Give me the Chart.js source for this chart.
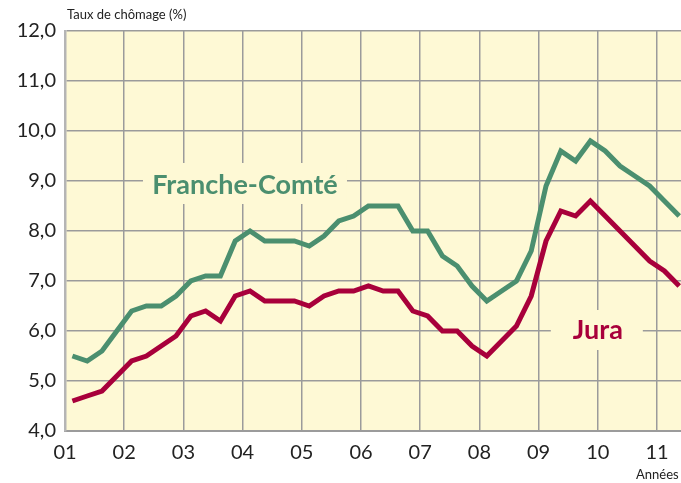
<!DOCTYPE html>
<html><head><meta charset="utf-8">
<script src="https://cdn.jsdelivr.net/npm/chart.js@4/dist/chart.umd.min.js"></script>
<style>html,body{margin:0;padding:0;background:#fff;}#wrap{width:681px;height:483px;position:relative;}</style>
</head><body><div id="wrap"><canvas id="c" width="681" height="483"></canvas></div>
<script>
const yearLabels = ['01','02','03','04','05','06','07','08','09','10','11'];
const yTicks = [4,5,6,7,8,9,10,11,12];
const franche = [5.5,5.4,5.6,6.0, 6.4,6.5,6.5,6.7, 7.0,7.1,7.1,7.8, 8.0,7.8,7.8,7.8, 7.7,7.9,8.2,8.3, 8.5,8.5,8.5,8.0, 8.0,7.5,7.3,6.9, 6.6,6.8,7.0,7.6, 8.9,9.6,9.4,9.8, 9.6,9.3,9.1,8.9, 8.6,8.3];
const jura = [4.6,4.7,4.8,5.1, 5.4,5.5,5.7,5.9, 6.3,6.4,6.2,6.7, 6.8,6.6,6.6,6.6, 6.5,6.7,6.8,6.8, 6.9,6.8,6.8,6.4, 6.3,6.0,6.0,5.7, 5.5,5.8,6.1,6.7, 7.8,8.4,8.3,8.6, 8.3,8.0,7.7,7.4, 7.2,6.9];
const seriesNames = ['Franche-Comté','Jura'];
const yTitle = 'Taux de chômage (%)';
const xTitle = 'Années';

// quarter i -> position on year axis (year index 1 = 2001), centered in quarter
const toPoints = arr => arr.map((v,i)=>({x: 1 + Math.floor(i/4) + ((i%4)+0.5)/4, y: v}));

const BG = '#fef9d5';
const GRID = '#9b9b9b';
const GREEN = '#4b8f6f';
const RED = '#a8003b';
const FONT = 'Lato, "DejaVu Sans", sans-serif';

const decor = {
  id:'decor',
  beforeDraw(chart){
    const {ctx, chartArea:a} = chart;
    ctx.save();
    ctx.fillStyle = BG;
    ctx.fillRect(a.left, a.top, a.right-a.left, a.bottom-a.top);
    ctx.restore();
  },
  beforeDatasetsDraw(chart){
    const {ctx, scales:{x,y}} = chart;
    const labels = [
      {text: seriesNames[0], xv: 4.04, yv: 8.92, color: GREEN, size: 27, box:[-102,-22,102,19]},
      {text: seriesNames[1], xv: 10.0, yv: 6.02, color: RED, size: 27, box:[-47,-20,45,20]}
    ];
    ctx.save();
    labels.forEach(l=>{
      const px = x.getPixelForValue(l.xv), py = y.getPixelForValue(l.yv);
      ctx.fillStyle = BG;
      ctx.fillRect(px+l.box[0], py+l.box[1], l.box[2]-l.box[0], l.box[3]-l.box[1]);
      ctx.font = 'bold '+l.size+'px '+FONT;
      ctx.fillStyle = l.color;
      ctx.textAlign = 'center';
      ctx.textBaseline = 'middle';
      ctx.fillText(l.text, px, py);
    });
    ctx.restore();
  },
  afterDraw(chart){
    const {ctx, chartArea:a} = chart;
    ctx.save();
    ctx.fillStyle = '#222';
    ctx.font = '13px '+FONT;
    ctx.textAlign='left'; ctx.textBaseline='middle';
    ctx.fillText(yTitle, a.left+2, 15);
    ctx.font = '13px '+FONT;
    ctx.fillText(xTitle, 636, 475);
    ctx.restore();
  }
};

new Chart(document.getElementById('c'), {
  type:'line',
  data:{datasets:[
    {label:seriesNames[0], data:toPoints(franche), borderColor:GREEN, borderWidth:5, pointRadius:0, tension:0, borderJoinStyle:'miter', borderCapStyle:'butt', fill:false},
    {label:seriesNames[1], data:toPoints(jura), borderColor:RED, borderWidth:5, pointRadius:0, tension:0, borderJoinStyle:'miter', borderCapStyle:'butt', fill:false}
  ]},
  options:{
    responsive:false, animation:false,
    layout:{padding:{top:31,right:0,left:0,bottom:0}},
    plugins:{legend:{display:false}, tooltip:{enabled:false}},
    scales:{
      x:{type:'linear', min:1, max:11.405,
         afterFit(s){s.height=52;},
         grid:{color:GRID, lineWidth:1.5, drawTicks:false},
         border:{color:GRID, width:2},
         ticks:{stepSize:1, includeBounds:false, padding:10, color:'#222', font:{family:FONT, size:20},
                maxRotation:0, autoSkip:false,
                callback:v=>yearLabels[Math.round(v)-1]}},
      y:{type:'linear', min:4, max:12,
         afterFit(s){s.width=65;},
         afterBuildTicks(s){s.ticks = yTicks.map(v=>({value:v}));},
         grid:{color:GRID, lineWidth:1.5, drawTicks:false},
         border:{color:'#b5b5b5', width:2.5},
         ticks:{padding:9, color:'#222', font:{family:FONT, size:20},
                callback:v=>v.toFixed(1).replace('.',',')}}
    }
  },
  plugins:[decor]
});
</script></body></html>
